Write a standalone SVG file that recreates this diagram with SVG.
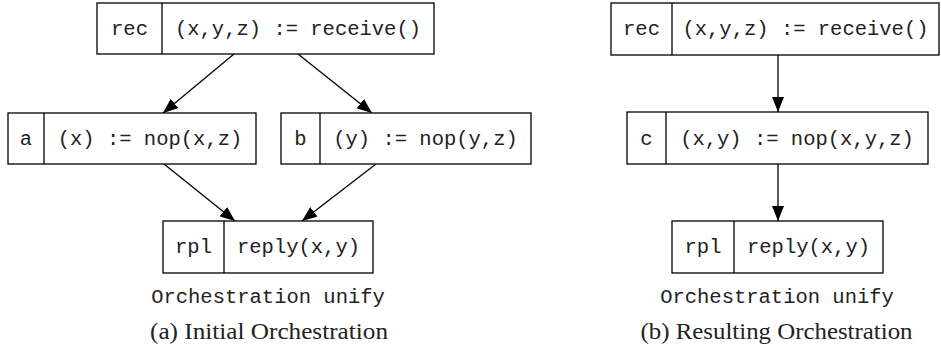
<svg xmlns="http://www.w3.org/2000/svg" width="941" height="362" viewBox="0 0 941 362">
<style>
rect{fill:#fff;stroke:#000;stroke-width:1.3}
.d{stroke:#000;stroke-width:1.3}
.m{font-family:"Liberation Mono",monospace;font-size:20.5px;fill:#222;text-anchor:middle}
.s{font-family:"Liberation Serif",serif;font-size:23px;fill:#222;text-anchor:middle}
.e{stroke:#000;stroke-width:1.3;fill:none;marker-end:url(#ah)}
</style>
<defs>
<marker id="ah" markerWidth="16" markerHeight="12" refX="15" refY="6" orient="auto" markerUnits="userSpaceOnUse">
<path d="M0,0 L15,6 L0,12 Z" fill="#000"/>
</marker>
</defs>
<g id="edges">
<line class="e" x1="234" y1="54" x2="163" y2="113"/>
<line class="e" x1="298" y1="54" x2="372" y2="113"/>
<line class="e" x1="164" y1="164" x2="235" y2="221"/>
<line class="e" x1="376" y1="164" x2="302" y2="221"/>
<line class="e" x1="778" y1="55" x2="778" y2="112"/>
<line class="e" x1="778" y1="164" x2="778" y2="221"/>
</g>
<g id="a_rec">
<rect x="97" y="3" width="337" height="51"/><line class="d" x1="162" y1="3" x2="162" y2="54"/>
<text class="m" x="129.5" y="35">rec</text><text class="m" x="298" y="35">(x,y,z) := receive()</text>
</g>
<g id="a_a">
<rect x="8" y="113" width="248" height="51"/><line class="d" x1="44" y1="113" x2="44" y2="164"/>
<text class="m" x="26" y="145">a</text><text class="m" x="150" y="145">(x) := nop(x,z)</text>
</g>
<g id="a_b">
<rect x="281" y="113" width="250" height="51"/><line class="d" x1="320" y1="113" x2="320" y2="164"/>
<text class="m" x="300.5" y="145">b</text><text class="m" x="425.5" y="145">(y) := nop(y,z)</text>
</g>
<g id="a_rpl">
<rect x="163" y="221" width="210" height="52"/><line class="d" x1="224" y1="221" x2="224" y2="273"/>
<text class="m" x="193.5" y="253">rpl</text><text class="m" x="298.5" y="253">reply(x,y)</text>
</g>
<text class="m" x="268" y="303">Orchestration unify</text>
<text class="s" x="269" y="339" textLength="238" lengthAdjust="spacingAndGlyphs">(a) Initial Orchestration</text>
<g id="b_rec">
<rect x="611" y="3" width="328" height="52"/><line class="d" x1="672" y1="3" x2="672" y2="55"/>
<text class="m" x="641.5" y="35">rec</text><text class="m" x="805.5" y="35">(x,y,z) := receive()</text>
</g>
<g id="b_c">
<rect x="627" y="112" width="301" height="52"/><line class="d" x1="666" y1="112" x2="666" y2="164"/>
<text class="m" x="646.5" y="145">c</text><text class="m" x="797" y="145">(x,y) := nop(x,y,z)</text>
</g>
<g id="b_rpl">
<rect x="672" y="221" width="211" height="52"/><line class="d" x1="734" y1="221" x2="734" y2="273"/>
<text class="m" x="703" y="253">rpl</text><text class="m" x="808.5" y="253">reply(x,y)</text>
</g>
<text class="m" x="777" y="303">Orchestration unify</text>
<text class="s" x="776.5" y="339" textLength="272" lengthAdjust="spacingAndGlyphs">(b) Resulting Orchestration</text>
</svg>
